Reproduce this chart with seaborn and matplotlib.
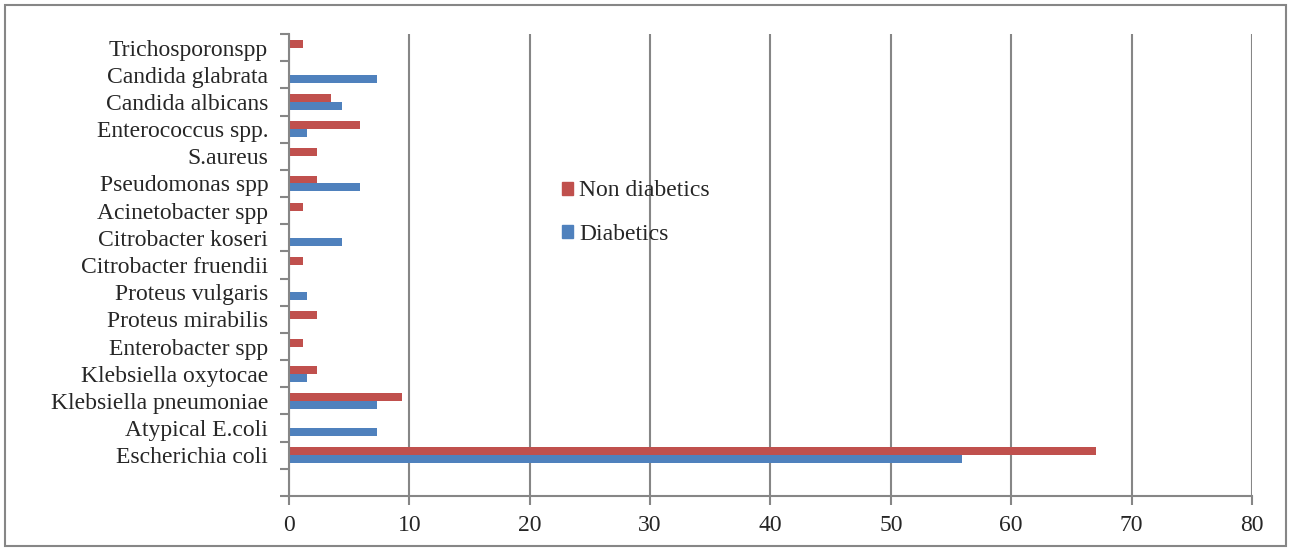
import pandas as pd
import numpy as np
import seaborn as sns
from matplotlib import pyplot as plt
from matplotlib.patches import Patch, Rectangle


organisms = ["Trichosporonspp", "Candida glabrata", "Candida albicans", "Enterococcus spp.",
             "S.aureus", "Pseudomonas spp", "Acinetobacter spp", "Citrobacter koseri",
             "Citrobacter fruendii", "Proteus vulgaris", "Proteus mirabilis", "Enterobacter spp",
             "Klebsiella oxytocae", "Klebsiella pneumoniae", "Atypical E.coli", "Escherichia coli"]
non_diabetics = [1.18, 0, 3.53, 5.88, 2.35, 2.35, 1.18, 0, 1.18, 0, 2.35, 1.18, 2.35, 9.41, 0, 67.06]
diabetics = [0, 7.35, 4.41, 1.47, 0, 5.88, 0, 4.41, 0, 1.47, 0, 0, 1.47, 7.35, 7.35, 55.88]
groups = ["Non diabetics", "Diabetics"]
colors = ["#C0504D", "#4F81BD"]
xticks = [0, 10, 20, 30, 40, 50, 60, 70, 80]

df = pd.DataFrame({
    "organism": organisms * 2,
    "value": non_diabetics + diabetics,
    "group": [groups[0]] * len(organisms) + [groups[1]] * len(organisms),
})

sns.set_style("white")
plt.rcParams["font.family"] = ["Liberation Serif", "DejaVu Serif"]

fig = plt.figure(figsize=(12.9, 5.48), dpi=100)
ax = fig.add_axes([0.224, 0.0949, 0.7465, 0.8431])

sns.barplot(data=df, x="value", y="organism", hue="group", order=organisms,
            hue_order=groups, palette=colors, orient="h", width=0.58,
            saturation=1, linewidth=0, ax=ax, legend=False)

grid_color = "#868686"
n_slots = len(organisms) + 1  # the source chart keeps one empty slot at the bottom
ax.set_xlim(0, 80)
ax.set_ylim(n_slots - 0.5, -0.5)
ax.set_xticks(xticks)
ax.set_xticklabels([str(t) for t in xticks], fontsize=17)
ax.xaxis.grid(True, color=grid_color, linewidth=1.5)
ax.set_axisbelow(True)

# Excel style: ticks between categories, labels in the middle
ax.set_yticks(np.arange(-0.5, n_slots), labels=[])
ax.set_yticks(np.arange(len(organisms)), labels=organisms, minor=True)
ax.tick_params(axis="y", which="major", left=True, length=6.5, width=1.5,
               color=grid_color, direction="out")
ax.tick_params(axis="y", which="minor", left=False, labelleft=True, labelsize=17, pad=13)
ax.tick_params(axis="x", bottom=True, length=6.5, width=1.5, color=grid_color,
               direction="out", pad=7.5)
ax.set_xlabel("")
ax.set_ylabel("")

for side in ["top", "right"]:
    ax.spines[side].set_visible(False)
for side in ["left", "bottom"]:
    ax.spines[side].set_color(grid_color)
    ax.spines[side].set_linewidth(1.5)

handles = [Patch(color=c) for c in colors]
ax.legend(handles, groups, loc="upper left", bbox_to_anchor=(0.2835, 0.683),
          frameon=False, fontsize=17, handlelength=0.47, handleheight=0.47,
          handletextpad=0.25, labelspacing=0.95, borderpad=0, borderaxespad=0)

fig.patches.append(Rectangle((0.004, 0.004), 0.993, 0.986, transform=fig.transFigure,
                             fill=False, edgecolor=grid_color, linewidth=1.5))

plt.savefig("out.png", dpi=100)
